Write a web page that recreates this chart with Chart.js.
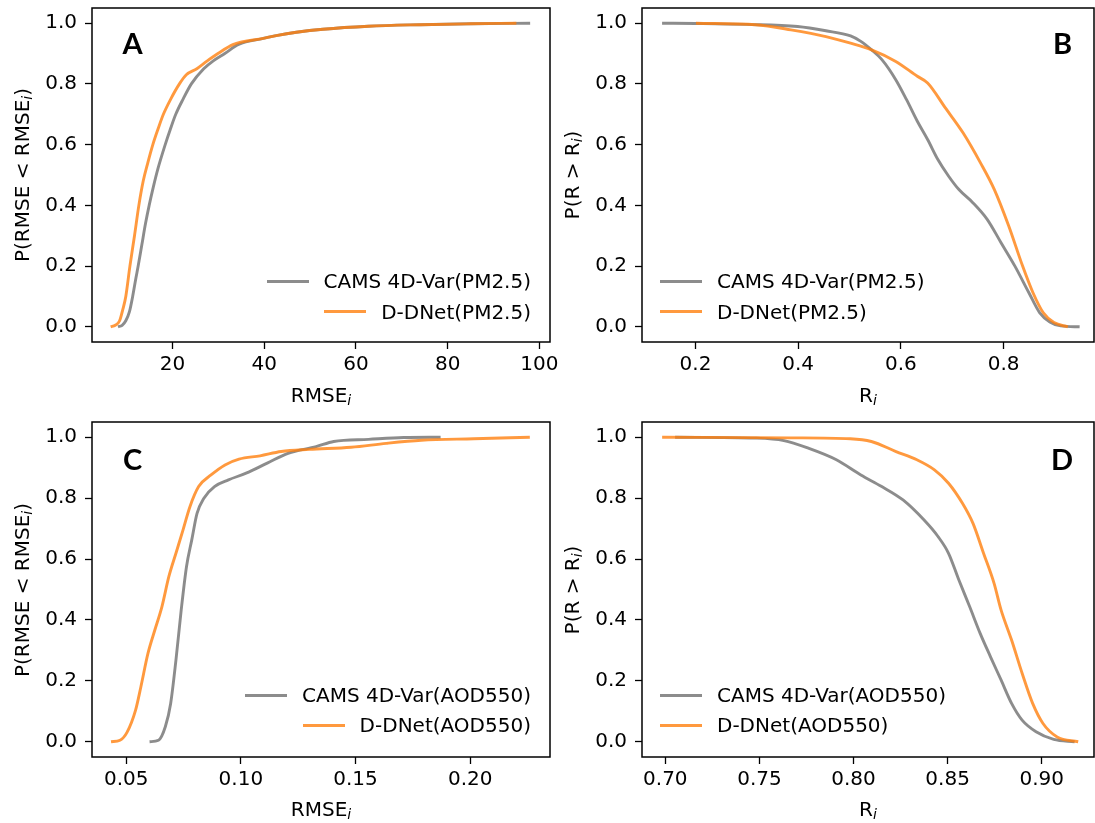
<!DOCTYPE html>
<html>
<head>
<meta charset="utf-8">
<script src="https://cdn.jsdelivr.net/npm/chart.js@4.4.1/dist/chart.umd.min.js"></script>
<style>
html,body{margin:0;padding:0;background:#fff;width:1095px;height:823px;overflow:hidden;}
#fig{position:relative;width:1095px;height:823px;font-family:"DejaVu Sans",sans-serif;color:#000;}
canvas{position:absolute;}
.t{position:absolute;font-size:20px;line-height:20px;white-space:nowrap;transform:translate(-50%,-50%);}
.ty{transform:translate(-50%,-50%) rotate(-90deg);}
.sub{font-size:0.7em;font-style:italic;position:relative;top:0.22em;}
.letter{position:absolute;font-family:Lato,"Open Sans",sans-serif;font-weight:bold;font-size:29px;line-height:29px;transform:translate(-50%,-50%);}
.row{position:absolute;display:flex;align-items:center;white-space:nowrap;font-size:20px;line-height:20px;transform:translateY(-50%);}
.sw{display:inline-block;width:42px;height:3px;margin-right:15px;}
</style>
</head>
<body>
<div id="fig">
  <canvas id="cA" width="580" height="411" style="left:0;top:0"></canvas>
  <canvas id="cB" width="545" height="411" style="left:550px;top:0"></canvas>
  <canvas id="cC" width="580" height="412" style="left:0;top:411px"></canvas>
  <canvas id="cD" width="545" height="412" style="left:550px;top:411px"></canvas>
</div>
<script>
// ---------- data ----------
const Y_TICKS = [0, 0.2, 0.4, 0.6, 0.8, 1.0];
const Y_TICK_LABELS = ["0.0", "0.2", "0.4", "0.6", "0.8", "1.0"];

const A_X_TICKS = [20, 40, 60, 80, 100];
const A_X_TICK_LABELS = ["20", "40", "60", "80", "100"];
const B_X_TICKS = [0.2, 0.4, 0.6, 0.8];
const B_X_TICK_LABELS = ["0.2", "0.4", "0.6", "0.8"];
const C_X_TICKS = [0.05, 0.10, 0.15, 0.20];
const C_X_TICK_LABELS = ["0.05", "0.10", "0.15", "0.20"];
const D_X_TICKS = [0.70, 0.75, 0.80, 0.85, 0.90];
const D_X_TICK_LABELS = ["0.70", "0.75", "0.80", "0.85", "0.90"];

const PM_LABELS = ["CAMS 4D-Var(PM2.5)", "D-DNet(PM2.5)"];
const AOD_LABELS = ["CAMS 4D-Var(AOD550)", "D-DNet(AOD550)"];

// Panel A: CDF of RMSE (PM2.5)
const A_CAMS_X = [8.1, 9.0, 9.8, 10.6, 11.3, 12.0, 12.5, 13.3, 14.1, 14.9, 15.8, 16.8, 18.4, 19.5, 20.7, 22.3, 24.1, 26.8, 28.8, 31.4, 34.4, 39.8, 42.9, 47, 52.8, 62.7, 74, 85, 98];
const A_CAMS_P = [0, 0.005, 0.02, 0.05, 0.1, 0.16, 0.2, 0.27, 0.34, 0.4, 0.46, 0.52, 0.6, 0.65, 0.7, 0.75, 0.8, 0.85, 0.875, 0.9, 0.93, 0.95, 0.96, 0.97, 0.98, 0.99, 0.995, 0.998, 1.0];
const A_DDNET_X = [6.5, 7.5, 8.45, 9.2, 9.8, 10.7, 11.7, 12.65, 13.6, 14.6, 15.7, 16.8, 18.0, 19.6, 21.5, 23.0, 25.3, 27.5, 29.9, 33.3, 39.8, 42.9, 47, 52.8, 62.7, 74, 85, 95];
const A_DDNET_P = [0, 0.005, 0.02, 0.06, 0.1, 0.2, 0.3, 0.4, 0.48, 0.54, 0.6, 0.65, 0.7, 0.75, 0.8, 0.83, 0.85, 0.875, 0.9, 0.93, 0.95, 0.96, 0.97, 0.98, 0.99, 0.995, 0.998, 1.0];

// Panel B: exceedance of R (PM2.5)
const B_CAMS_X = [0.135, 0.2, 0.3, 0.399, 0.454, 0.502, 0.522, 0.543, 0.563, 0.59, 0.611, 0.632, 0.652, 0.672, 0.693, 0.713, 0.74, 0.768, 0.795, 0.822, 0.849, 0.87, 0.89, 0.911, 0.948];
const B_CAMS_P = [1.0, 0.999, 0.996, 0.989, 0.975, 0.958, 0.94, 0.912, 0.88, 0.814, 0.748, 0.677, 0.617, 0.551, 0.496, 0.452, 0.409, 0.354, 0.277, 0.2, 0.113, 0.047, 0.016, 0.003, 0];
const B_DDNET_X = [0.201, 0.317, 0.386, 0.454, 0.502, 0.543, 0.59, 0.632, 0.652, 0.687, 0.721, 0.755, 0.782, 0.81, 0.837, 0.857, 0.877, 0.898, 0.925];
const B_DDNET_P = [1.0, 0.995, 0.978, 0.956, 0.934, 0.912, 0.874, 0.825, 0.803, 0.72, 0.639, 0.54, 0.452, 0.332, 0.2, 0.113, 0.047, 0.014, 0];

// Panel C: CDF of RMSE (AOD550)
const C_CAMS_X = [0.0602, 0.0641, 0.0671, 0.0694, 0.0717, 0.074, 0.0763, 0.0786, 0.0809, 0.0839, 0.0885, 0.0946, 0.1023, 0.1115, 0.1206, 0.1328, 0.1405, 0.1557, 0.171, 0.1871];
const C_CAMS_P = [0, 0.005, 0.05, 0.126, 0.268, 0.433, 0.575, 0.663, 0.75, 0.8, 0.838, 0.86, 0.882, 0.915, 0.947, 0.969, 0.986, 0.993, 0.999, 1.0];
const C_DDNET_X = [0.0434, 0.0473, 0.0503, 0.0541, 0.0564, 0.0595, 0.0625, 0.0656, 0.0686, 0.0717, 0.0748, 0.0778, 0.0816, 0.087, 0.0931, 0.0992, 0.1084, 0.1176, 0.1298, 0.1481, 0.1634, 0.1787, 0.2016, 0.226];
const C_DDNET_P = [0, 0.005, 0.03, 0.104, 0.18, 0.29, 0.367, 0.444, 0.542, 0.619, 0.696, 0.772, 0.838, 0.876, 0.909, 0.928, 0.939, 0.953, 0.96, 0.967, 0.98, 0.99, 0.995, 1.0];

// Panel D: exceedance of R (AOD550)
const D_CAMS_X = [0.7052, 0.748, 0.763, 0.776, 0.7909, 0.8039, 0.815, 0.8263, 0.8375, 0.8449, 0.8505, 0.856, 0.8617, 0.8673, 0.8728, 0.8784, 0.884, 0.8896, 0.897, 0.9064, 0.9175];
const D_CAMS_P = [1.0, 0.997, 0.989, 0.964, 0.926, 0.876, 0.838, 0.794, 0.728, 0.674, 0.619, 0.531, 0.444, 0.356, 0.279, 0.203, 0.126, 0.071, 0.033, 0.008, 0];
const D_DDNET_X = [0.6983, 0.7667, 0.7983, 0.8095, 0.8226, 0.8337, 0.843, 0.8505, 0.8579, 0.8635, 0.8691, 0.8747, 0.8784, 0.884, 0.8896, 0.8952, 0.9007, 0.9082, 0.9194];
const D_DDNET_P = [1.0, 0.998, 0.995, 0.986, 0.953, 0.926, 0.893, 0.849, 0.783, 0.717, 0.619, 0.52, 0.433, 0.334, 0.225, 0.126, 0.06, 0.016, 0];

// ---------- styling ----------
const GREY = "rgba(128,128,128,0.9)";
const ORANGE = "rgba(255,127,14,0.8)";
const FONT = "DejaVu Sans";
const FONT_SIZE = 20;

const framePlugin = {
  id: "frame",
  afterDatasetsDraw(chart) {
    const a = chart.chartArea, ctx = chart.ctx;
    ctx.save();
    ctx.strokeStyle = "#000";
    ctx.lineWidth = 1.5;
    ctx.strokeRect(a.left, a.top, a.right - a.left, a.bottom - a.top);
    ctx.restore();
  }
};

function zip(xs, ys) { return xs.map((x, i) => ({ x: x, y: ys[i] })); }

function makePanel(p) {
  const ds = [
    { label: p.labels[0], data: zip(p.gx, p.gy), borderColor: GREY, order: 1 },
    { label: p.labels[1], data: zip(p.ox, p.oy), borderColor: ORANGE, order: 0 }
  ].map(d => Object.assign(d, {
    showLine: true, pointRadius: 0, pointHoverRadius: 0, borderWidth: 2.9,
    fill: false, cubicInterpolationMode: "monotone", backgroundColor: d.borderColor
  }));
  const tickFont = { family: FONT, size: FONT_SIZE };
  const chart = new Chart(document.getElementById(p.canvas), {
    type: "scatter",
    data: { datasets: ds },
    options: {
      responsive: false, animation: false, devicePixelRatio: 1,
      layout: { padding: { top: p.padTop, right: p.padRight, left: 0, bottom: 0 } },
      plugins: { legend: { display: false }, tooltip: { enabled: false } },
      scales: {
        x: {
          type: "linear", min: p.xmin, max: p.xmax,
          afterBuildTicks: s => { s.ticks = p.xTicks.map(v => ({ value: v })); },
          afterFit: s => { s.height = p.xH; s.paddingLeft = 0; s.paddingRight = 0; },
          grid: { display: true, drawOnChartArea: false, drawTicks: true, tickLength: 7, tickWidth: 1.3, tickColor: "#000" },
          border: { display: false },
          ticks: { font: tickFont, color: "#000", padding: 4, autoSkip: false, maxRotation: 0,
                   callback: (v, i) => p.xLabels[i] }
        },
        y: {
          type: "linear", min: -0.05, max: 1.05,
          afterBuildTicks: s => { s.ticks = Y_TICKS.map(v => ({ value: v })); },
          afterFit: s => { s.width = p.yW; s.paddingTop = 0; s.paddingBottom = 0; },
          grid: { display: true, drawOnChartArea: false, drawTicks: true, tickLength: 7, tickWidth: 1.3, tickColor: "#000" },
          border: { display: false },
          ticks: { font: tickFont, color: "#000", padding: 8, autoSkip: false,
                   callback: (v, i) => Y_TICK_LABELS[i] }
        }
      }
    },
    plugins: [framePlugin]
  });

  const fig = document.getElementById("fig");
  const add = (cls, html, x, y) => {
    const d = document.createElement("div");
    d.className = cls; d.innerHTML = html;
    d.style.left = x + "px"; d.style.top = y + "px";
    fig.appendChild(d); return d;
  };
  add("t", p.xTitle, p.xTitlePos[0], p.xTitlePos[1]);
  add("t ty", p.yTitle, p.yTitlePos[0], p.yTitlePos[1]);
  add("letter", p.letter, p.letterPos[0], p.letterPos[1]);
  // legend generated from the chart's datasets (legend order = dataset index)
  chart.data.datasets.forEach((d, i) => {
    const row = document.createElement("div");
    row.className = "row";
    const sw = document.createElement("span");
    sw.className = "sw"; sw.style.background = d.borderColor;
    const tx = document.createElement("span");
    tx.textContent = d.label;
    row.appendChild(sw); row.appendChild(tx);
    row.style.top = p.legRows[i] + "px";
    if (p.legSide === "right") { row.style.right = (1095 - p.legX) + "px"; }
    else { row.style.left = p.legX + "px"; }
    fig.appendChild(row);
  });
  return chart;
}

const SUB_I = '<span class="sub">i</span>';

makePanel({
  canvas: "cA", letter: "A", letterPos: [132.5, 41.5],
  labels: PM_LABELS, gx: A_CAMS_X, gy: A_CAMS_P, ox: A_DDNET_X, oy: A_DDNET_P,
  xmin: 2.43, xmax: 102.33, xTicks: A_X_TICKS, xLabels: A_X_TICK_LABELS,
  padTop: 8, padRight: 30, xH: 69, yW: 92,
  xTitle: "RMSE" + SUB_I, xTitlePos: [321, 395.5],
  yTitle: "P(RMSE &lt; RMSE" + SUB_I + ")", yTitlePos: [23, 175.3],
  legSide: "right", legX: 531, legRows: [281, 311.7]
});
makePanel({
  canvas: "cB", letter: "B", letterPos: [1062.5, 41.5],
  labels: PM_LABELS, gx: B_CAMS_X, gy: B_CAMS_P, ox: B_DDNET_X, oy: B_DDNET_P,
  xmin: 0.0959, xmax: 0.976, xTicks: B_X_TICKS, xLabels: B_X_TICK_LABELS,
  padTop: 8, padRight: 1, xH: 69, yW: 92,
  xTitle: "R" + SUB_I, xTitlePos: [868, 395.5],
  yTitle: "P(R &gt; R" + SUB_I + ")", yTitlePos: [573, 175.3],
  legSide: "left", legX: 660, legRows: [281, 311.7]
});
makePanel({
  canvas: "cC", letter: "C", letterPos: [132.5, 457.5],
  labels: AOD_LABELS, gx: C_CAMS_X, gy: C_CAMS_P, ox: C_DDNET_X, oy: C_DDNET_P,
  xmin: 0.0351, xmax: 0.2348, xTicks: C_X_TICKS, xLabels: C_X_TICK_LABELS,
  padTop: 11, padRight: 30, xH: 66, yW: 92,
  xTitle: "RMSE" + SUB_I, xTitlePos: [321, 809.5],
  yTitle: "P(RMSE &lt; RMSE" + SUB_I + ")", yTitlePos: [23, 589.5],
  legSide: "right", legX: 531, legRows: [695, 725]
});
makePanel({
  canvas: "cD", letter: "D", letterPos: [1062, 457.5],
  labels: AOD_LABELS, gx: D_CAMS_X, gy: D_CAMS_P, ox: D_DDNET_X, oy: D_DDNET_P,
  xmin: 0.6876, xmax: 0.9278, xTicks: D_X_TICKS, xLabels: D_X_TICK_LABELS,
  padTop: 11, padRight: 1, xH: 66, yW: 92,
  xTitle: "R" + SUB_I, xTitlePos: [868, 809.5],
  yTitle: "P(R &gt; R" + SUB_I + ")", yTitlePos: [573, 589.5],
  legSide: "left", legX: 660, legRows: [695, 725]
});
</script>
</body>
</html>
